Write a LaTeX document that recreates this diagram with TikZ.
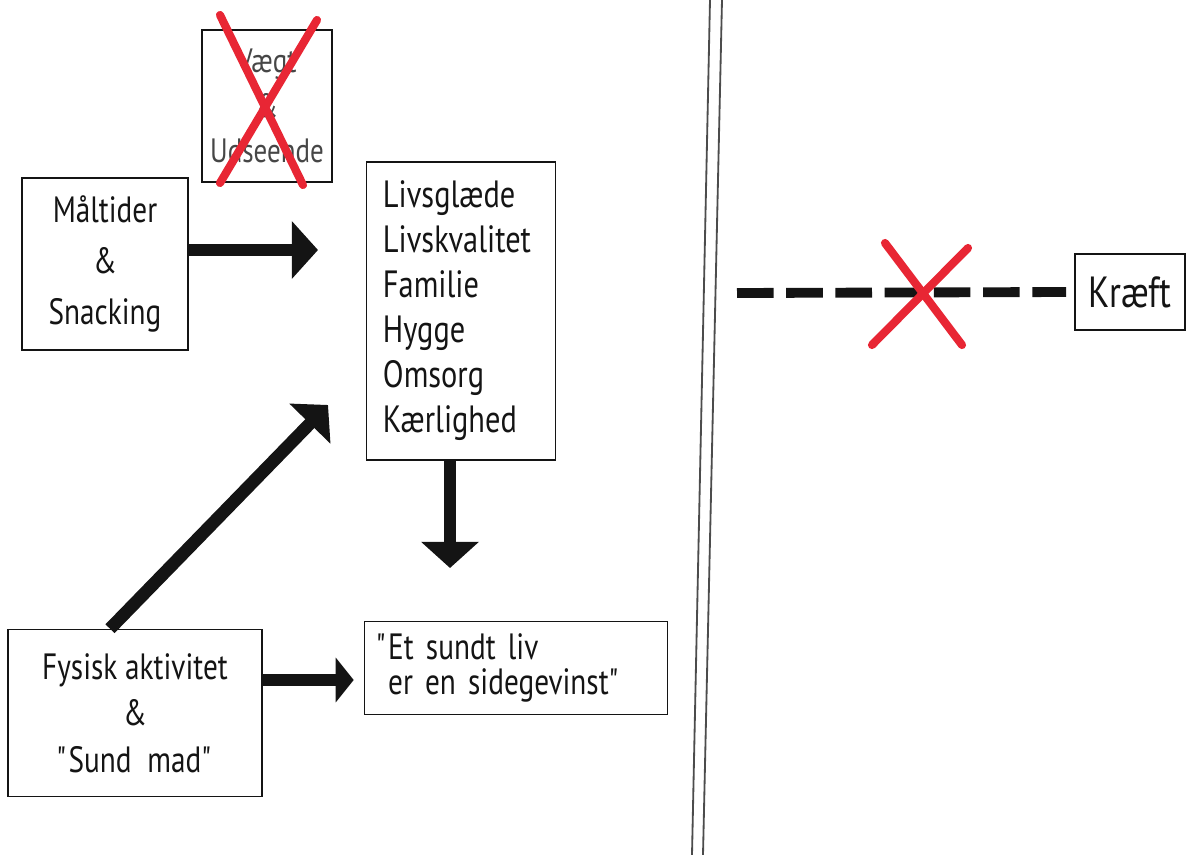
\documentclass[tikz,border=0pt]{standalone}
\usepackage{fontspec}
\setmainfont{PT Sans}[FakeStretch=0.8]
\usetikzlibrary{arrows.meta, positioning}
\definecolor{penblack}{RGB}{20,20,20}
\definecolor{crossred}{RGB}{232,38,52}
\definecolor{fadedink}{RGB}{70,70,70}

\begin{document}
\begin{tikzpicture}[
    x=0.025cm, y=-0.025cm,
    sketchbox/.style={rectangle, draw=penblack, line width=1.1pt, align=center, inner sep=0pt, text=penblack, font=\fontsize{26}{36}\selectfont},
    fatarrow/.style={-{Triangle[length=0.65cm, width=1.4cm]}, line width=9pt, penblack},
    slimarrow/.style={-{Triangle[length=0.45cm, width=1.1cm]}, line width=8.5pt, penblack},
    crossout/.style={crossred, line width=5.8pt, line cap=round},
    dashline/.style={penblack, line width=7pt, dash pattern=on 26pt off 9pt},
    divider/.style={black!70, line width=1.3pt}
]
\useasboundingbox (0,0) rectangle (1192,855);

\node[sketchbox, minimum width=3.25cm, minimum height=3.8cm, text=fadedink, font=\fontsize{24}{32}\selectfont] (vaegt) at (267,106) {Vægt\\\&\\Udseende};
\node[sketchbox, minimum width=4.15cm, minimum height=4.3cm] (maltider) at (105,264) {Måltider\\\&\\Snacking};
\node[sketchbox, minimum width=4.725cm, minimum height=7.45cm, text width=3.9cm, align=left, font=\fontsize{27}{32}\selectfont] (livs) at (461,311) {Livsglæde\\Livskvalitet\\Familie\\Hygge\\Omsorg\\Kærlighed};
\node[sketchbox, minimum width=6.35cm, minimum height=4.175cm, font=\fontsize{26}{33}\selectfont] (fysisk) at (135,713) {Fysisk aktivitet\\\&\\\textquotedbl Sund\ \ mad\textquotedbl};
\node[sketchbox, minimum width=7.575cm, minimum height=2.325cm, text width=7cm, align=left, font=\fontsize{26}{25}\selectfont] (sundt) at (516,668) {\textquotedbl Et sundt liv\\\ er en sidegevinst\textquotedbl};
\node[sketchbox, minimum width=2.75cm, minimum height=1.9cm, font=\fontsize{31}{36}\selectfont] (kraeft) at (1130,292) {Kræft};

% free ends
\coordinate (maltip) at (318,250);
\coordinate (diagtip) at (328,405);
\coordinate (downtip) at (450,568);
\coordinate (dashstart) at (737,293);

% arrows
\draw[fatarrow] (maltider.east |- maltip) -- (maltip);
\draw[fatarrow] ([xshift=-0.625cm]fysisk.north) -- (diagtip);
\draw[fatarrow] (livs.south -| downtip) -- (downtip);
\draw[slimarrow, shorten >=0.25cm] ([yshift=0.825cm]fysisk.east) -- ([yshift=0.825cm]fysisk.east -| sundt.west);

% dashed link
\draw[dashline] (dashstart) -- ([xshift=-0.2cm]kraeft.west);

% divider
\draw[divider] (710,0) -- (692,855);
\draw[divider] (722,0) -- (703,855);

% cross outs
\draw[crossout] (220,15) -- (303,185);
\draw[crossout] (317,20) -- (220,183);
\draw[crossout] (885,243) -- (962,345);
\draw[crossout] (968,248) -- (872,345);

\end{tikzpicture}
\end{document}
